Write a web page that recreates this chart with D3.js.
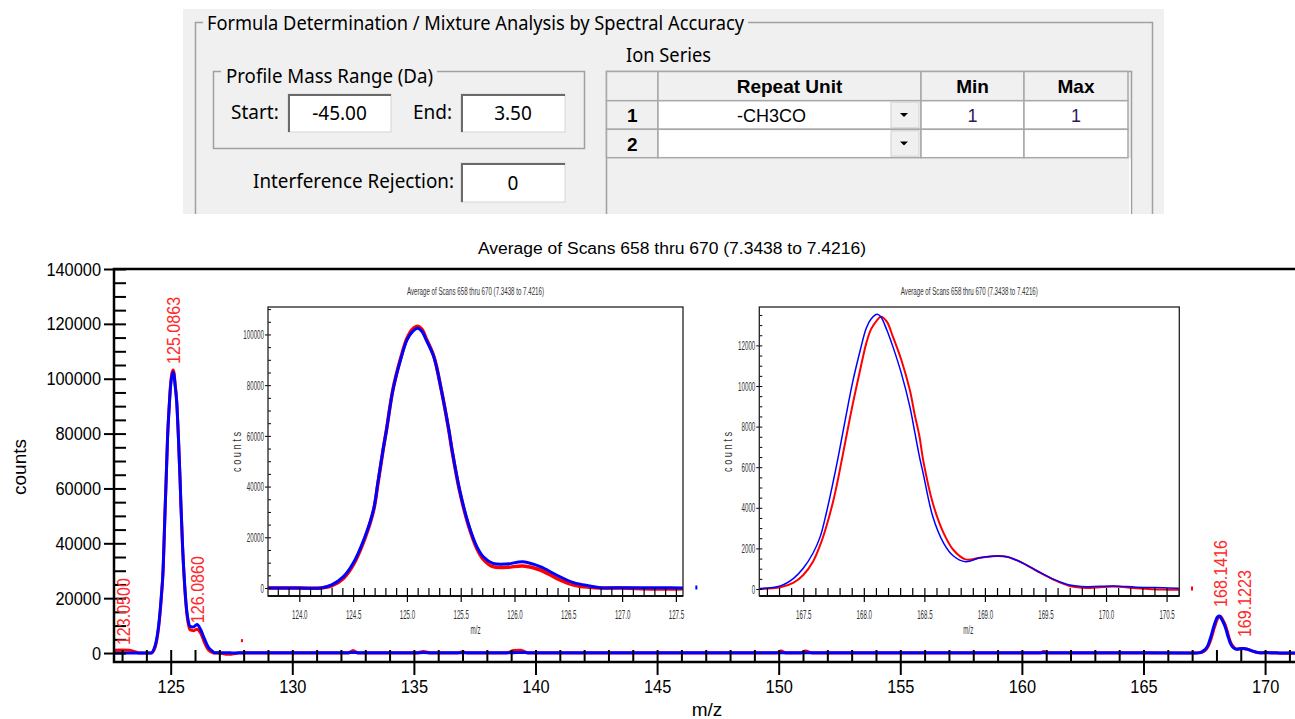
<!DOCTYPE html>
<html lang="en">
<head>
<meta charset="utf-8">
<title>Formula Determination / Mixture Analysis</title>
<script src="https://d3js.org/d3.v7.min.js"></script>
<style>
  body { margin: 0; background: #fff; }
  svg { display: block; }
  .dlg text { font-family: "Noto Sans", "Open Sans", sans-serif; font-size: 19px; fill: #000; }
  .dlg text.cell { font-family: "Liberation Sans", Arial, sans-serif; }
  .plot text { font-family: "Liberation Sans", Arial, sans-serif; }
</style>
</head>
<body>
<svg id="chart"></svg>
<script>
// ---- spectrum data ----
// peak cluster around m/z 125 (inset 1)
const peak1Mz   = [123.71, 124.0, 124.2, 124.3, 124.41, 124.5, 124.61, 124.69, 124.73, 124.78, 124.81, 124.87, 124.94, 125.0, 125.05, 125.1, 125.14, 125.18, 125.25, 125.32, 125.39, 125.42, 125.49, 125.57, 125.65, 125.71, 125.8, 125.93, 126.08, 126.24, 126.39, 126.55, 126.7, 126.8, 127.0, 127.2, 127.3, 127.45, 127.57];
const peak1Blue = [0, 0, 0, 1200, 4460, 9740, 20240, 31000, 41500, 55000, 62300, 78100, 89900, 97800, 101000, 102400, 101200, 97800, 91200, 78100, 62300, 54400, 38700, 25500, 16300, 12300, 9740, 9470, 10380, 8400, 5130, 2100, 790, 100, 100, 100, 100, 100, 0];
const peak1Red  = [0, 0, 0, 800, 3800, 9000, 19600, 30500, 41000, 54800, 62300, 78300, 90300, 98400, 102000, 103200, 102000, 98300, 91400, 78100, 62000, 54000, 38200, 25000, 15600, 11300, 8400, 8160, 8680, 7100, 3830, 1180, 270, 0, 0, -300, -400, -400, -300];

// peak cluster around m/z 168 (inset 2)
const peak2Mz   = [167.14, 167.31, 167.42, 167.5, 167.58, 167.64, 167.69, 167.75, 167.79, 167.86, 167.91, 167.97, 168.02, 168.06, 168.11, 168.14, 168.19, 168.24, 168.31, 168.38, 168.42, 168.46, 168.49, 168.57, 168.66, 168.74, 168.84, 168.96, 169.1, 169.18, 169.29, 169.43, 169.57, 169.7, 169.84, 170.06, 170.25, 170.47, 170.6];
const peak2Blue = [30, 150, 527, 1020, 1760, 2580, 3730, 5370, 6550, 8750, 10250, 11750, 12850, 13300, 13530, 13410, 12760, 11940, 10620, 8980, 7750, 6500, 5700, 3560, 2250, 1625, 1345, 1540, 1625, 1590, 1345, 900, 477, 197, 113, 150, 90, 60, 40];
const peak2Red  = [0, 80, 310, 690, 1345, 2170, 3070, 4400, 5500, 7650, 9150, 10800, 12100, 12800, 13250, 13410, 13170, 12430, 11280, 9800, 8600, 7500, 6350, 4220, 2740, 1920, 1460, 1540, 1625, 1590, 1345, 880, 450, 150, 50, 120, 40, -30, -40];

// baseline stretches of the full scan
const leftMz   = [122.67, 123.0, 123.3, 123.6];
const leftBlue = [0, 0, 0, 0];
const leftRed  = [1000, 1100, 1000, 300];
const midMz    = [127.8, 128.5, 130.0, 132.3, 132.5, 132.7, 135.1, 135.4, 135.7, 136.8, 137.0, 137.2, 138.8, 139.1, 139.4, 139.7, 145.0, 149.9, 150.1, 150.3, 150.9, 151.1, 151.4, 155.0, 160.75, 160.9, 161.05, 165.0, 167.0];
const midBlue  = [100, 100, 100, 100, 200, 100, 100, 150, 100, 100, 100, 100, 100, 100, 200, 100, 100, 100, 100, 100, 100, 100, 100, 100, 100, 100, 100, 100, 50];
const midRed   = [0, 0, 0, 0, 900, 0, 0, 600, 0, 0, 500, 0, 0, 900, 1000, 0, 0, 0, 700, 0, 0, 700, 0, 0, 0, 600, 0, 0, 0];
const rightMz   = [170.9, 171.3];
const rightBlue = [0, 0];
const rightRed  = [-100, -100];

// stray points
const strayMz  = [127.93];
const strayCnt = [4700];

// peak annotations
const peakLabels   = ["123.0500", "125.0863", "126.0860", "168.1416", "169.1223"];
const peakLabelMz  = [123.05, 125.0863, 126.086, 168.1416, 169.1223];
const peakLabelCnt = [2900, 105400, 10900, 16800, 5800];

const chartTitle = "Average of Scans 658 thru 670 (7.3438 to 7.4216)";

// dialog content
const tableHeader = ["", "Repeat Unit", "Min", "Max"];
const tableRows = [["1", "-CH3CO", "1", "1"], ["2", "", "", ""]];

// ---- page ----
const width = 1295, height = 719;
const svg = d3.select("#chart").attr("width", width).attr("height", height);
svg.append("rect").attr("width", width).attr("height", height).attr("fill", "#fff");

// ================= dialog panel =================
const dlg = svg.append("g").attr("class", "dlg");
dlg.append("rect").attr("x", 183).attr("y", 9).attr("width", 981).attr("height", 205).attr("fill", "#f0f0f0");

function frameLabel(x, base, txt, w) {
    const t = dlg.append("text").attr("x", x).attr("y", base).text(txt);
    if (w) t.attr("textLength", w).attr("lengthAdjust", "spacingAndGlyphs");
    return t;
}

// outer group box (open at the bottom, the panel is cut there)
dlg.append("path").attr("d", "M195.5,214 V22.5 H1152.5 V214")
    .attr("fill", "none").attr("stroke", "#a0a0a0").attr("stroke-width", 1.5);
dlg.append("rect").attr("x", 203).attr("y", 12).attr("width", 545).attr("height", 20).attr("fill", "#f0f0f0");
frameLabel(207, 30, "Formula Determination / Mixture Analysis by Spectral Accuracy", 537);

// Profile Mass Range group
dlg.append("rect").attr("x", 213.5).attr("y", 71.5).attr("width", 371).attr("height", 77)
    .attr("fill", "none").attr("stroke", "#a0a0a0").attr("stroke-width", 1.5);
dlg.append("rect").attr("x", 221).attr("y", 62).attr("width", 216).attr("height", 20).attr("fill", "#f0f0f0");
frameLabel(226, 82.5, "Profile Mass Range (Da)", 207);

function inputBox(x, y, w, h, val) {
    const g = dlg.append("g");
    g.append("rect").attr("x", x).attr("y", y).attr("width", w).attr("height", h)
        .attr("fill", "#fff").attr("stroke", "#d4d4d4").attr("stroke-width", 1);
    g.append("path").attr("d", `M${x + 1},${y + h} V${y + 1} H${x + w}`)
        .attr("fill", "none").attr("stroke", "#6a6a6a").attr("stroke-width", 2);
    g.append("text").attr("x", x + w / 2).attr("y", y + h / 2 + 7).attr("text-anchor", "middle").text(val);
}

frameLabel(231, 118.5, "Start:");
inputBox(288, 94, 103, 38, "-45.00");
frameLabel(413, 118.5, "End:");
inputBox(461, 94, 104, 38, "3.50");
frameLabel(253, 188, "Interference Rejection:", 201);
inputBox(461, 163, 104, 39, "0");

// Ion series table (container runs off the bottom of the panel)
frameLabel(626, 62, "Ion Series", 85);
dlg.append("path").attr("d", "M606.5,214 V71.5 H1131.5 V214")
    .attr("fill", "#f0f0f0").attr("stroke", "#a0a0a0").attr("stroke-width", 1.5);
dlg.append("line").attr("x1", 1130).attr("x2", 1130).attr("y1", 158).attr("y2", 214)
    .attr("stroke", "#fff").attr("stroke-width", 1.5);

const colX = [606.5, 658, 921, 1024, 1128];
const rowY = [71.5, 100.7, 129.3, 157.7];
const allRows = [tableHeader].concat(tableRows);
allRows.forEach((row, r) => {
    row.forEach((val, c) => {
        const x0 = colX[c], x1 = colX[c + 1], y0 = rowY[r], y1 = rowY[r + 1];
        const head = r === 0 || c === 0;
        dlg.append("rect").attr("x", x0).attr("y", y0).attr("width", x1 - x0).attr("height", y1 - y0)
            .attr("fill", head ? "#f0f0f0" : "#fff").attr("stroke", "#a8a8a8").attr("stroke-width", 1.5);
        let cx = (x0 + x1) / 2;
        if (r > 0 && c === 1) {
            // drop-down button
            dlg.append("rect").attr("x", 891).attr("y", y0 + 1.5).attr("width", 28).attr("height", y1 - y0 - 3)
                .attr("fill", "#f0f0f0").attr("stroke", "#d0d0d0");
            dlg.append("path").attr("d", `M900,${(y0 + y1) / 2 - 2} h8 l-4,4 z`).attr("fill", "#000");
            cx = (x0 + 891) / 2 - 3;
        }
        if (val !== "") {
            dlg.append("text").attr("class", "cell").attr("x", cx).attr("y", (y0 + y1) / 2 + 7)
                .attr("text-anchor", "middle")
                .attr("font-weight", head ? "bold" : "normal")
                .style("font-size", head ? "19px" : "18px")
                .style("fill", (!head && c > 1) ? "#301860" : "#000")
                .text(val);
        }
    });
});

// ================= main spectrum =================
const plot = svg.append("g").attr("class", "plot");
const mainL = 114, mainR = 1295, mainT = 269, mainB = 662;
const x = d3.scaleLinear([122.669, 171.23], [mainL, mainR]);
const y = d3.scaleLinear([-3270, 140000], [mainB, mainT]);

const zipPts = (m, c) => d3.zip(m, c);
const mainMz   = [].concat(leftMz, peak1Mz, midMz, peak2Mz, rightMz);
const mainBlue = [].concat(leftBlue, peak1Blue, midBlue, peak2Blue, rightBlue);
const mainRed  = [].concat(leftRed, peak1Red, midRed, peak2Red, rightRed);

svg.append("clipPath").attr("id", "mainClip").append("rect")
    .attr("x", mainL).attr("y", mainT).attr("width", mainR - mainL).attr("height", mainB - mainT);

const mainLine = d3.line().x(d => x(d[0])).y(d => y(d[1])).curve(d3.curveMonotoneX);
const traces = plot.append("g").attr("clip-path", "url(#mainClip)");
traces.append("path").datum(zipPts(mainMz, mainRed)).attr("d", mainLine)
    .attr("fill", "none").attr("stroke", "#ff0000").attr("stroke-width", 3);
traces.append("path").datum(zipPts(mainMz, mainBlue)).attr("d", mainLine)
    .attr("fill", "none").attr("stroke", "#0000ff").attr("stroke-width", 3);
traces.selectAll("rect.stray").data(zipPts(strayMz, strayCnt)).join("rect").attr("class", "stray")
    .attr("x", d => x(d[0]) - 1).attr("y", d => y(d[1]) - 1).attr("width", 2).attr("height", 3).attr("fill", "#ff0000");

// axes
function cleanAxis(g, w) {
    g.select(".domain").remove();
    g.attr("font-family", null).attr("font-size", null);
    g.selectAll(".tick line").attr("stroke", "#000").attr("stroke-width", w);
}
const digitW = 9.1;
plot.append("g").attr("transform", `translate(${mainL},0)`)
    .call(d3.axisRight(y).tickValues(d3.range(0, 140001, 5000)).tickSize(12).tickFormat(""))
    .call(g => cleanAxis(g, 2));
plot.append("g").attr("transform", `translate(${mainL},0)`)
    .call(d3.axisLeft(y).tickValues(d3.range(0, 140001, 20000)).tickSize(10).tickPadding(3).tickFormat(d3.format("d")))
    .call(g => cleanAxis(g, 2))
    .call(g => g.selectAll("text").style("font-size", "19px").attr("fill", "#000")
        .attr("textLength", function () { return this.textContent.length * digitW; })
        .attr("lengthAdjust", "spacingAndGlyphs"));
plot.append("g").attr("transform", `translate(0,${mainB})`)
    .call(d3.axisTop(x).tickValues(d3.range(123, 172, 1)).tickSize(12).tickFormat(""))
    .call(g => cleanAxis(g, 2));
plot.append("g").attr("transform", `translate(0,${mainB})`)
    .call(d3.axisBottom(x).tickValues(d3.range(125, 171, 5)).tickSize(13).tickPadding(5))
    .call(g => cleanAxis(g, 2))
    .call(g => g.selectAll("text").style("font-size", "19px").attr("fill", "#000")
        .attr("textLength", function () { return this.textContent.length * digitW; })
        .attr("lengthAdjust", "spacingAndGlyphs"));

// frame
plot.append("path").attr("d", `M${mainR},${mainT} H${mainL} V${mainB} H${mainR}`)
    .attr("fill", "none").attr("stroke", "#000").attr("stroke-width", 2.5);

plot.append("text").attr("x", 672).attr("y", 254).attr("text-anchor", "middle")
    .style("font-size", "16px").attr("textLength", 388).attr("lengthAdjust", "spacingAndGlyphs")
    .text(chartTitle);
plot.append("text").attr("transform", "translate(26,467) rotate(-90)").attr("text-anchor", "middle")
    .style("font-size", "19px").text("counts");
plot.append("text").attr("x", 707).attr("y", 716).attr("text-anchor", "middle")
    .style("font-size", "19px").text("m/z");

// peak labels
plot.selectAll("text.peak").data(d3.zip(peakLabels, peakLabelMz, peakLabelCnt)).join("text")
    .attr("class", "peak")
    .attr("transform", d => `translate(${x(d[1]) + 7},${y(d[2])}) rotate(-90)`)
    .style("font-size", "19px").attr("fill", "#ff2a2a")
    .attr("textLength", 67).attr("lengthAdjust", "spacingAndGlyphs")
    .text(d => d[0]);

// ================= zoomed insets =================
function drawInset(cfg) {
    const g = plot.append("g");
    const ix = d3.scaleLinear(cfg.xDomain, [cfg.left, cfg.right]);
    const iy = d3.scaleLinear(cfg.yDomain, [cfg.bottom, cfg.top]);
    const small = (sel, fs) => sel.style("font-size", fs + "px").attr("fill", "#333")
        .attr("textLength", function () {
            const s = this.textContent;
            return s.replace(/\./g, "").length * 3.45 + (s.split(".").length - 1) * 1.6;
        })
        .attr("lengthAdjust", "spacingAndGlyphs");

    const clipId = "clip" + cfg.id;
    svg.append("clipPath").attr("id", clipId).append("rect")
        .attr("x", cfg.left).attr("y", cfg.top).attr("width", cfg.right - cfg.left).attr("height", cfg.bottom - cfg.top);

    const line = d3.line().x(d => ix(d[0])).y(d => iy(d[1])).curve(d3.curveCatmullRom.alpha(0.5));
    const tr = g.append("g").attr("clip-path", `url(#${clipId})`);
    tr.append("path").datum(d3.zip(cfg.mz, cfg.red)).attr("d", line)
        .attr("fill", "none").attr("stroke", "#ff0000").attr("stroke-width", cfg.lw + 0.5);
    tr.append("path").datum(d3.zip(cfg.mz, cfg.blue)).attr("d", line)
        .attr("fill", "none").attr("stroke", "#0000ff").attr("stroke-width", cfg.lw);

    // stray point right of the frame
    g.append("rect").attr("x", ix(cfg.dot[0]) - 1).attr("y", iy(cfg.dot[1]) - 2.5)
        .attr("width", 2).attr("height", 4).attr("fill", cfg.dot[2]);

    g.append("g").attr("transform", `translate(0,${cfg.bottom})`)
        .call(d3.axisTop(ix).tickValues(cfg.xMinor).tickSize(8).tickFormat(""))
        .call(a => cleanAxis(a, 1.2));
    g.append("g").attr("transform", `translate(0,${cfg.bottom})`)
        .call(d3.axisBottom(ix).tickValues(cfg.xMajor).tickSize(6).tickPadding(8).tickFormat(d3.format(".1f")))
        .call(a => cleanAxis(a, 1.2))
        .call(a => small(a.selectAll("text"), 13));
    g.append("g").attr("transform", `translate(${cfg.left},0)`)
        .call(d3.axisRight(iy).tickValues(cfg.yMinor).tickSize(3).tickFormat(""))
        .call(a => cleanAxis(a, 1));
    g.append("g").attr("transform", `translate(${cfg.left},0)`)
        .call(d3.axisLeft(iy).tickValues(cfg.yMajor).tickSize(3).tickPadding(1).tickFormat(d3.format("d")))
        .call(a => cleanAxis(a, 1))
        .call(a => small(a.selectAll("text"), 13));

    g.append("rect").attr("x", cfg.left).attr("y", cfg.top)
        .attr("width", cfg.right - cfg.left).attr("height", cfg.bottom - cfg.top)
        .attr("fill", "none").attr("stroke", "#222").attr("stroke-width", 1.3);
    g.append("line").attr("x1", cfg.left).attr("x2", cfg.right).attr("y1", cfg.bottom).attr("y2", cfg.bottom)
        .attr("stroke", "#111").attr("stroke-width", 2);

    const cx = (cfg.left + cfg.right) / 2;
    g.append("text").attr("x", cx).attr("y", 294.5).attr("text-anchor", "middle")
        .style("font-size", "10px").attr("fill", "#333")
        .attr("textLength", 137).attr("lengthAdjust", "spacingAndGlyphs").text(chartTitle);
    g.append("text").attr("x", cx + cfg.mzShift).attr("y", 634).attr("text-anchor", "middle")
        .style("font-size", "12px").attr("fill", "#333")
        .attr("textLength", 10).attr("lengthAdjust", "spacingAndGlyphs").text("m/z");
    g.append("text").attr("transform", `translate(${cfg.left - 27},452) rotate(-90)`).attr("text-anchor", "middle")
        .style("font-size", "12px").attr("fill", "#333")
        .attr("textLength", 40).attr("lengthAdjust", "spacingAndGlyphs").text("c o u n t s");
}

drawInset({
    id: 1, left: 268, right: 683, top: 307, bottom: 596,
    xDomain: [123.709, 127.566], yDomain: [-3156, 110830],
    xMajor: d3.range(124, 127.51, 0.5), xMinor: d3.range(123.8, 127.56, 0.1),
    yMajor: d3.range(0, 100001, 20000), yMinor: d3.range(0, 110001, 5000),
    mz: peak1Mz, blue: peak1Blue, red: peak1Red, lw: 3,
    dot: [127.69, 0, "#0000ff"], mzShift: 0
});
drawInset({
    id: 2, left: 759.3, right: 1179.3, top: 307, bottom: 596,
    xDomain: [167.137, 170.605], yDomain: [-345, 13892],
    xMajor: d3.range(167.5, 170.51, 0.5), xMinor: d3.range(167.2, 170.61, 0.1),
    yMajor: d3.range(0, 12001, 2000), yMinor: d3.range(0, 13801, 500),
    mz: peak2Mz, blue: peak2Blue, red: peak2Red, lw: 1.5,
    dot: [170.71, 0, "#ff0000"], mzShift: -1
});
</script>
</body>
</html>
